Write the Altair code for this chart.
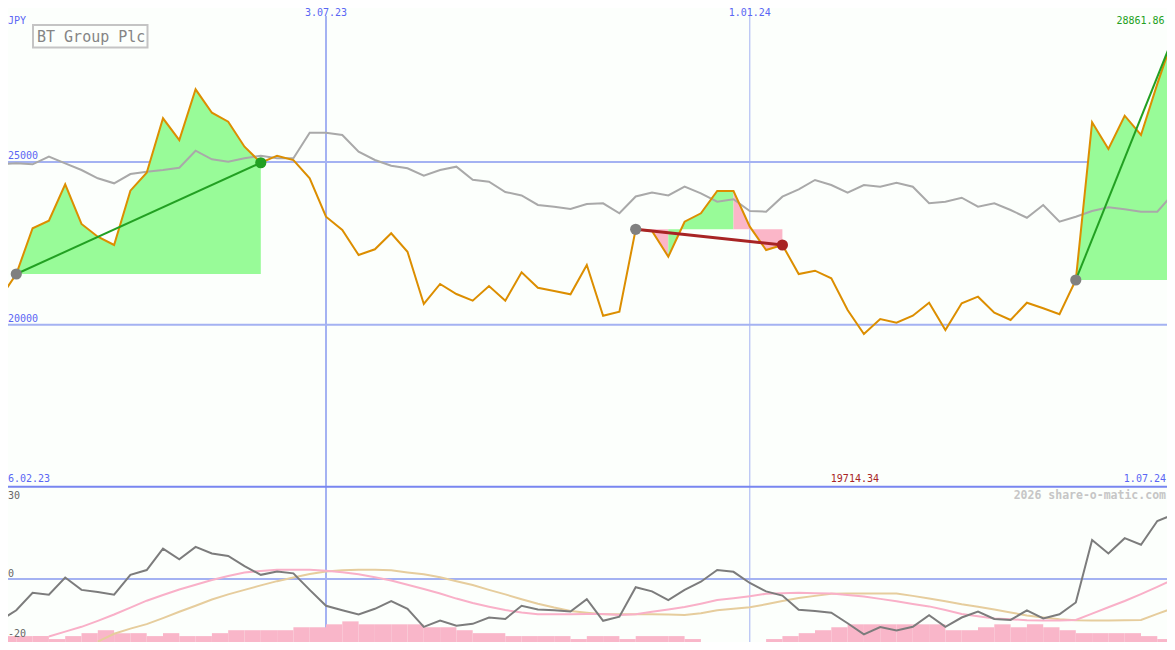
import altair as alt
import pandas as pd

# ---------------- data ----------------
first_week = "2023-02-13"

price = [20811, 21558, 22963, 23196, 24315, 23095, 22704, 22449, 24118, 24671,
         26343, 25676, 27234, 26515, 26238, 25470, 24978, 25194, 25061, 24499,
         23319, 22910, 22142, 22317, 22809, 22243, 20636, 21251, 20944, 20738,
         21189, 20738, 21610, 21137, 21036, 20934, 21835, 20277, 20400, 22932,
         22880, 22090, 23165, 23424, 24109, 24109, 23012, 22296, 22449, 21558,
         21660, 21426, 20452, 19714.34, 20175, 20062, 20277, 20676, 19837, 20658,
         20861, 20369, 20145, 20676, 20504, 20320, 21374, 26220, 25400, 26423,
         25830, 27400, 28861.86]

index_gray = [24939, 24960, 24929, 25163, 24960, 24754, 24499, 24345, 24631, 24702,
              24754, 24825, 25347, 25083, 25009, 25114, 25194, 25114, 25114, 25900,
              25900, 25830, 25317, 25061, 24886, 24806, 24579, 24754, 24856, 24456,
              24395, 24078, 23971, 23679, 23626, 23556, 23709, 23731, 23423, 23939,
              24063, 23971, 24241, 24038, 23780, 23854, 23494, 23473, 23934, 24161,
              24447, 24293, 24057, 24293, 24241, 24364, 24241, 23731, 23780, 23903,
              23626, 23731, 23525, 23288, 23679, 23165, 23319, 23494, 23608, 23546,
              23473, 23473, 24038]

momentum = [-13.8, -10.4, -4.6, -5.2, 0.5, -3.6, -4.3, -5.2, 1.4, 3.0,
            10.1, 6.6, 10.7, 8.5, 7.7, 4.3, 1.4, 2.5, 1.9, -3.6,
            -8.9, -10.4, -11.8, -9.9, -7.3, -9.9, -15.9, -13.8, -15.5, -14.9,
            -12.8, -13.3, -8.9, -10.1, -10.4, -10.8, -6.7, -13.9, -12.5, -2.7,
            -4.1, -7.0, -3.6, -0.9, 3.0, 2.4, -1.3, -4.1, -5.5, -10.2,
            -10.6, -11.2, -14.7, -18.4, -16.0, -17.1, -15.9, -12.0, -15.9, -12.8,
            -10.8, -13.3, -13.6, -10.4, -13.1, -11.7, -7.8, 13.0, 8.5, 13.6,
            11.4, 19.3, 21.5]

ma_pink = [None, None, None, -19.1, -17.5, -15.9, -13.9, -11.8, -9.5, -7.2,
           -5.3, -3.5, -1.9, -0.3, 1.0, 2.2, 2.7, 3.1, 3.1, 3.1,
           2.8, 2.3, 1.6, 0.6, -0.5, -1.9, -3.3, -4.8, -6.5, -8.0,
           -9.2, -10.3, -11.1, -11.7, -11.7, -11.7, -11.6, -11.6, -12.0, -11.7,
           -10.9, -10.1, -9.3, -8.2, -7.0, -6.4, -5.7, -4.9, -4.7, -4.6,
           -4.7, -4.8, -5.3, -5.8, -6.6, -7.4, -8.3, -9.1, -10.3, -11.6,
           -12.4, -13.1, -13.4, -13.7, -13.8, -13.8, -13.6, -11.5, -9.4, -7.3,
           -5.0, -2.6, -0.1]

ma_tan = [None, None, None, None, None, None, -20.8, -18.2, -16.5, -15.0,
          -13.0, -10.9, -8.9, -6.8, -5.1, -3.6, -2.1, -0.7, 0.5, 1.7,
          2.5, 2.9, 3.1, 3.1, 2.9, 2.2, 1.6, 0.6, -0.7, -2.0,
          -3.6, -5.1, -6.7, -8.2, -9.5, -10.6, -11.2, -11.7, -11.7, -11.7,
          -11.7, -11.8, -12.0, -11.4, -10.4, -9.9, -9.4, -8.4, -7.3, -6.3,
          -5.6, -4.9, -4.8, -4.8, -4.8, -4.8, -5.6, -6.5, -7.4, -8.4,
          -9.2, -10.1, -11.1, -12.1, -12.8, -13.4, -13.7, -13.8, -13.8, -13.7,
          -13.6, -11.6, -9.6]

volume = [2, 2, 2, 1, 2, 3, 4, 3, 3, 2,
          3, 2, 2, 3, 4, 4, 4, 4, 5, 5,
          6, 7, 6, 6, 6, 6, 5, 5, 4, 3,
          3, 2, 2, 2, 2, 1, 2, 2, 1, 2,
          2, 2, 1, 0, 0, 0, 0, 1, 2, 3,
          4, 5, 6, 6, 6, 6, 6, 6, 4, 4,
          5, 6, 5, 6, 5, 4, 3, 3, 3, 3,
          2, 1]

trade_open = [1, 39, 66]
trade_close = [16, 48, 72]
closed_trades = [0, 1]
fill_start = [1, 39, 41, 45, 66]
fill_end = [16, 41, 45, 48, 72]
fill_trade = [0, 1, 1, 1, 2]
fill_dir = ["up", "down", "up", "down", "up"]

grid_prices = [20000, 25000]
marker_dates = ["2023-07-03", "2024-01-01"]
marker_labels = ["3.07.23", "1.01.24"]
marker_widths = [2, 1]
osc_labels = [0, -20]
osc_top = 30
title = "BT Group Plc"
currency = "JPY"
left_date = "6.02.23"
right_date = "1.07.24"
watermark = "2026 share-o-matic.com"

# ---------------- layout ----------------
W, H = 1159, 634          # fits inside the 1175x650 window with the 8px page margin
def X(r):                 # reference pixel -> chart pixel
    return r - 8
def Y(r):                 # upper panel: same page position as the reference
    return r - 8
def YL(r):                # lower panel squeezed a little so it ends at the window bottom
    return 479 + (r - 487) * 155 / 163

BG = "#fcfffc"
GRID = "#a4b2f2"
SEP = "#7886f0"
BLUE_TXT = "#5a66f4"
ORANGE = "#dc8e00"
GRAY_IDX = "#a9a9a9"
FILL_UP = "#98fb98"
FILL_DN = "#fbb6c8"
LINE_UP = "#22a022"
LINE_DN = "#a82424"
DOT_OPEN = "#808080"
MOM = "#7c7c7c"
MA_PINK = "#f9b0c8"
MA_TAN = "#e6cd9d"
VOL = "#f9b6c9"
MONO = "DejaVu Sans Mono"

dates = pd.date_range(first_week, periods=len(price), freq="7D")

xs = alt.Scale(domain=[alt.DateTime(year=2023, month=2, date=13),
                       alt.DateTime(year=2024, month=7, date=1)],
               range=[X(0), X(1173.6)])
ys_main = alt.Scale(domain=[20000, 25000], range=[Y(324.7), Y(162)], nice=False, zero=False)
ys_low = alt.Scale(domain=[-20, 30], range=[YL(647), YL(489)], nice=False, zero=False)
ys_vol = alt.Scale(domain=[0, 10], range=[YL(650), YL(619)], nice=False, zero=False)

def xenc(field="date"):
    return alt.X(f"{field}:T", scale=xs, axis=None)

main_df = pd.DataFrame({"date": dates, "price": price, "idx": index_gray,
                        "mom": momentum, "pink": ma_pink, "tan": ma_tan})
vol_df = pd.DataFrame({"date": dates[:-1], "date2": dates[1:], "vol": volume})

rows = []
for i, (a, b, t, d) in enumerate(zip(fill_start, fill_end, fill_trade, fill_dir)):
    base = price[trade_open[t]]
    for k in range(a, b + 1):
        rows.append({"date": dates[k], "price": price[k], "base": base, "piece": i, "dir": d})
fill_df = pd.DataFrame(rows)

trows, drows = [], []
for t, (a, b) in enumerate(zip(trade_open, trade_close)):
    outcome = "gain" if price[b] >= price[a] else "loss"
    for k in (a, b):
        trows.append({"date": dates[k], "price": price[k], "trade": t, "outcome": outcome})
    drows.append({"date": dates[a], "price": price[a], "kind": "open"})
    if t in closed_trades:
        drows.append({"date": dates[b], "price": price[b], "kind": outcome})
trend_df = pd.DataFrame(trows)
dots_df = pd.DataFrame(drows)

grid_df = pd.DataFrame({"p": grid_prices, "lab": [str(p) for p in grid_prices]})
mark_df = pd.DataFrame({"d": pd.to_datetime(marker_dates), "lab": marker_labels, "w": marker_widths})
osc_df = pd.DataFrame({"v": osc_labels, "lab": [str(v) for v in osc_labels]})
osc_top_df = pd.DataFrame({"v": [osc_top], "lab": [str(osc_top)]})

kmin = min(range(len(price)), key=lambda k: price[k])
kmax = max(range(len(price)), key=lambda k: price[k])
ext_df = pd.DataFrame({"date": [dates[kmin], dates[kmax]],
                       "lab": [f"{price[kmin]:.2f}", f"{price[kmax]:.2f}"]})
one = pd.DataFrame({"a": [0]})

# ---------------- layers ----------------
hgrid = alt.Chart(grid_df).mark_rule(color=GRID, strokeWidth=2).encode(
    y=alt.Y("p:Q", scale=ys_main, axis=None), x=alt.value(0), x2=alt.value(W))
vgrid = alt.Chart(mark_df).mark_rule(color=GRID).encode(
    x=alt.X("d:T", scale=xs, axis=None), y=alt.value(Y(16)), y2=alt.value(H),
    strokeWidth=alt.StrokeWidth("w:Q", scale=None))
sep = alt.Chart(one).mark_rule(color=SEP, strokeWidth=2).encode(
    y=alt.value(Y(486.8)), x=alt.value(0), x2=alt.value(W))
zero_line = alt.Chart(pd.DataFrame({"v": [0]})).mark_rule(color=GRID, strokeWidth=2).encode(
    y=alt.Y("v:Q", scale=ys_low, axis=None), x=alt.value(0), x2=alt.value(W))

areas = alt.Chart(fill_df).mark_area(opacity=1).encode(
    x=xenc(), y=alt.Y("price:Q", scale=ys_main, axis=None), y2="base:Q",
    color=alt.Color("dir:N", scale=alt.Scale(domain=["up", "down"], range=[FILL_UP, FILL_DN]), legend=None),
    detail="piece:N")

idx_line = alt.Chart(main_df).mark_line(color=GRAY_IDX, strokeWidth=2).encode(
    x=xenc(), y=alt.Y("idx:Q", scale=ys_main, axis=None))
price_line = alt.Chart(main_df).mark_line(color=ORANGE, strokeWidth=2).encode(
    x=xenc(), y=alt.Y("price:Q", scale=ys_main, axis=None))

trend = alt.Chart(trend_df).mark_line().encode(
    x=xenc(), y=alt.Y("price:Q", scale=ys_main, axis=None),
    color=alt.Color("outcome:N", scale=alt.Scale(domain=["gain", "loss"], range=[LINE_UP, LINE_DN]), legend=None),
    strokeWidth=alt.StrokeWidth("outcome:N", scale=alt.Scale(domain=["gain", "loss"], range=[2, 3]), legend=None),
    detail="trade:N")

dots = alt.Chart(dots_df).mark_circle(size=125, opacity=1).encode(
    x=xenc(), y=alt.Y("price:Q", scale=ys_main, axis=None),
    color=alt.Color("kind:N", scale=alt.Scale(domain=["open", "gain", "loss"],
                                              range=[DOT_OPEN, LINE_UP, LINE_DN]), legend=None))

vol_bars = alt.Chart(vol_df).mark_rect(color=VOL).encode(
    x=xenc(), x2="date2:T", y=alt.Y("vol:Q", scale=ys_vol, axis=None), y2=alt.value(H))

tan_line = alt.Chart(main_df).mark_line(color=MA_TAN, strokeWidth=2).encode(
    x=xenc(), y=alt.Y("tan:Q", scale=ys_low, axis=None))
pink_line = alt.Chart(main_df).mark_line(color=MA_PINK, strokeWidth=2).encode(
    x=xenc(), y=alt.Y("pink:Q", scale=ys_low, axis=None))
mom_line = alt.Chart(main_df).mark_line(color=MOM, strokeWidth=2).encode(
    x=xenc(), y=alt.Y("mom:Q", scale=ys_low, axis=None))

# ---------------- text ----------------
txt = dict(font=MONO, fontSize=10, baseline="middle")
date_labels = alt.Chart(mark_df).mark_text(color=BLUE_TXT, align="center", **txt).encode(
    x=alt.X("d:T", scale=xs, axis=None), y=alt.value(4.5), text="lab:N")
grid_labels = alt.Chart(grid_df).mark_text(color=BLUE_TXT, align="left", dy=-6, **txt).encode(
    x=alt.value(0), y=alt.Y("p:Q", scale=ys_main, axis=None), text="lab:N")
jpy = alt.Chart(one).mark_text(color=BLUE_TXT, align="left", text=currency, **txt).encode(
    x=alt.value(0), y=alt.value(Y(21)))
left_lab = alt.Chart(one).mark_text(color=BLUE_TXT, align="left", text=left_date, **txt).encode(
    x=alt.value(0), y=alt.value(Y(478.7)))
right_lab = alt.Chart(one).mark_text(color=BLUE_TXT, align="right", text=right_date, **txt).encode(
    x=alt.value(W - 1), y=alt.value(Y(478.7)))
min_lab = alt.Chart(ext_df.iloc[[0]]).mark_text(color=LINE_DN, align="center", dx=-9, **txt).encode(
    x=xenc(), y=alt.value(Y(478.7)), text="lab:N")
max_lab = alt.Chart(ext_df.iloc[[1]]).mark_text(color=LINE_UP, align="right", dx=-9, **txt).encode(
    x=xenc(), y=alt.value(Y(21)), text="lab:N")
osc_lab = alt.Chart(osc_df).mark_text(color="#666666", align="left", dy=-5, **txt).encode(
    x=alt.value(0), y=alt.Y("v:Q", scale=ys_low, axis=None), text="lab:N")
osc_top_lab = alt.Chart(osc_top_df).mark_text(color="#666666", align="left", dy=7, **txt).encode(
    x=alt.value(0), y=alt.Y("v:Q", scale=ys_low, axis=None), text="lab:N")
wm = alt.Chart(one).mark_text(color="#c6c6c6", align="right", baseline="middle", font=MONO,
                              fontSize=11.5, fontWeight="bold", text=watermark).encode(
    x=alt.value(W - 1), y=alt.value(YL(496)))
title_box = alt.Chart(one).mark_rect(fill=BG, stroke="#c4c4c4", strokeWidth=2).encode(
    x=alt.value(X(33)), x2=alt.value(X(147.5)), y=alt.value(Y(25)), y2=alt.value(Y(47.5)))
title_txt = alt.Chart(one).mark_text(color="#858585", align="left", baseline="middle", font=MONO,
                                     fontSize=15, text=title).encode(
    x=alt.value(X(37)), y=alt.value(Y(36.5)))

chart = alt.layer(
    hgrid, vgrid, sep, zero_line,
    vol_bars, tan_line, pink_line, mom_line,
    areas, idx_line, price_line, trend, dots,
    date_labels, grid_labels, jpy, left_lab, right_lab, min_lab, max_lab,
    osc_lab, osc_top_lab, wm, title_box, title_txt,
).resolve_scale(
    y="independent", color="independent", strokeWidth="independent"
).properties(
    width=W, height=H, padding=0, background=BG,
    autosize=alt.AutoSizeParams(type="none"),
).configure_view(stroke=None)

chart.save("out.html", embed_options={"renderer": "svg", "actions": False})
